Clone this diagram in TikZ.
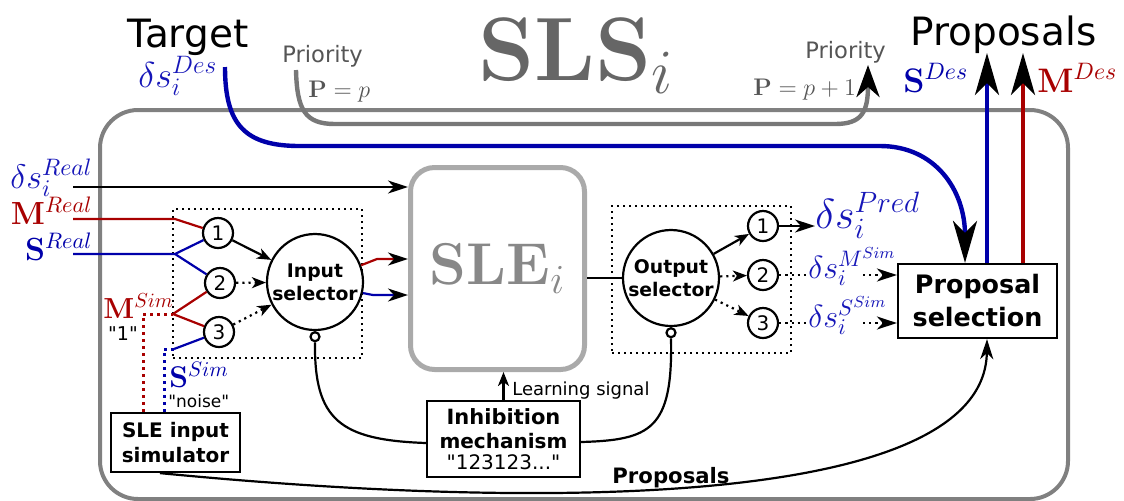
\RequirePackage{fix-cm}
\documentclass[tikz,border=0pt]{standalone}
\usepackage[no-math]{fontspec}
\setmainfont[Ligatures=TeXOff]{DejaVu Sans}
\usetikzlibrary{arrows.meta}
\definecolor{lblue}{HTML}{0000AA}
\definecolor{tblue}{HTML}{1616B8}
\definecolor{dred}{HTML}{A80000}
\definecolor{boxgray}{HTML}{808080}
\definecolor{prigray}{HTML}{787878}
\definecolor{pritext}{HTML}{555555}
\definecolor{titlegray}{HTML}{666666}
\definecolor{slegray}{HTML}{AAAAAA}
\definecolor{sletext}{HTML}{888888}
\newcommand{\myfs}[1]{\fontsize{#1}{#1}\selectfont}
\tikzset{
  thinarrow/.style={-{Stealth[black,length=10pt,width=6.5pt,inset=3pt]}},
  smallarrow/.style={-{Stealth[black,length=7pt,width=5.5pt,inset=2pt]}},
  bigarrow/.style={-{Stealth[black,length=21pt,width=12pt,inset=6pt]}},
  priarrow/.style={-{Stealth[black,length=16pt,width=11.5pt,inset=5pt]}},
  circ/.style={circle,draw,line width=1.1pt,fill=white,minimum size=15pt,inner sep=0pt,font=\myfs{10}},
  smallc/.style={circle,draw,line width=1.1pt,fill=white,minimum size=4.5pt,inner sep=0pt},
  sel/.style={circle,draw,line width=1.1pt,fill=white,minimum size=48pt,inner sep=0pt,align=center,font=\bfseries\fontsize{9.4}{11.5}\selectfont},
  dotbox/.style={draw,dotted,line width=1pt,inner sep=0pt},
  blk/.style={draw,line width=1.1pt,fill=white,align=center,inner sep=0pt},
  lbl/.style={inner sep=0pt},
  thin/.style={line width=1.1pt},
  thick/.style={line width=2.2pt}
}
\begin{document}
\begin{tikzpicture}[x=0.5pt,y=-0.5pt]
\useasboundingbox (0,0) rectangle (1124,500);
% outer SLS box
\draw[boxgray,line width=2pt,rounded corners=19pt] (100,110) rectangle (1068,499);
% title
\node[lbl,anchor=base west,text=titlegray,font=\myfs{45}] (title) at (478,80) {$\mathbf{SLS}_i$};
% dotted boxes
\node[dotbox,minimum width=94.5pt,minimum height=74.5pt] (inbox) at (267.5,283.5) {};
\node[dotbox,minimum width=89.5pt,minimum height=73.5pt] (outbox) at (701.5,279.5) {};
% SLE
\node[draw=slegray,line width=2.5pt,rounded corners=12pt,minimum width=87pt,minimum height=101pt,text=sletext,font=\myfs{29.5}] (sle) at (497.5,268.5) {$\mathbf{SLE}_i$};
% selectors
\node[sel] (insel) at (315,282) {Input\\selector};
\node[sel] (outsel) at (671,278) {Output\\selector};
\node[smallc,anchor=north] (inhin) at (insel.south) {};
\node[smallc,anchor=north] (inhout) at (outsel.south) {};
% small circles
\node[circ] (in1) at (218,233) {1};
\node[circ] (in2) at (220,283) {2};
\node[circ] (in3) at (219,332) {3};
\node[circ] (out1) at (763,226) {1};
\node[circ] (out2) at (763,275) {2};
\node[circ] (out3) at (763,323) {3};
% boxes
\node[blk,minimum width=76.5pt,minimum height=38pt] (inh) at (503.5,439)
  {\bfseries\fontsize{10.5}{13.5}\selectfont Inhibition\\ \bfseries mechanism\\[-1.5pt] \mdseries\myfs{10}"123123..."};
\node[blk,minimum width=64.5pt,minimum height=29.5pt,font=\bfseries\fontsize{10}{12.5}\selectfont] (sim) at (175.5,442.5) {SLE input\\simulator};
\node[blk,minimum width=79.5pt,minimum height=37pt,font=\bfseries\fontsize{12.7}{16.5}\selectfont] (prop) at (977.5,301) {Proposal\\selection};
% top labels
\node[lbl,anchor=base,font=\myfs{19.5}] (target) at (188,47) {Target};
\node[lbl,anchor=base west,text=tblue,font=\myfs{18}] (desl) at (138,87) {$\delta s_i^{Des}$};
\node[lbl,anchor=base west,text=pritext,font=\myfs{11.3}] (pril) at (282,62) {Priority};
\node[lbl,anchor=base west,text=pritext,font=\myfs{12}] (pl) at (308,97) {$\mathbf{P}=p$};
\node[lbl,anchor=base west,text=pritext,font=\myfs{11.3}] (prir) at (805,58) {Priority};
\node[lbl,anchor=base west,text=pritext,font=\myfs{12}] (pr) at (753,95) {$\mathbf{P}=p+1$};
\node[lbl,anchor=base west,font=\myfs{19.5}] (propt) at (910,45) {Proposals};
\node[lbl,anchor=base west,text=lblue,font=\myfs{17}] (sdes) at (903,92) {$\mathbf{S}^{Des}$};
\node[lbl,anchor=base west,text=dred,font=\myfs{17}] (mdes) at (1037,92) {$\mathbf{M}^{Des}$};
% left labels
\node[lbl,anchor=base west,text=tblue,font=\myfs{17}] (dreal) at (10,188) {$\delta s_i^{Real}$};
\node[lbl,anchor=base east,text=dred,font=\myfs{16}] (mreal) at (93,224) {$\mathbf{M}^{Real}$};
\node[lbl,anchor=base east,text=lblue,font=\myfs{16}] (sreal) at (93,260) {$\mathbf{S}^{Real}$};
\node[lbl,anchor=base west,text=dred,font=\myfs{14.5}] (msim) at (103,318) {$\mathbf{M}^{Sim}$};
\node[lbl,anchor=base,font=\myfs{9.5}] (one) at (123,340) {"1"};
\node[lbl,anchor=base west,text=lblue,font=\myfs{15}] (ssim) at (169,387) {$\mathbf{S}^{Sim}$};
\node[lbl,anchor=base west,font=\myfs{8.5}] (noise) at (168,407) {"noise"};
% right labels
\node[lbl,anchor=base west,text=tblue,font=\myfs{21}] (pred) at (815,228) {$\delta s_i^{Pred}$};
\node[lbl,anchor=base west,text=tblue,font=\myfs{16}] (dm) at (808,278) {$\delta s_i^{M^{Sim}}$};
\node[lbl,anchor=base west,text=tblue,font=\myfs{16}] (ds) at (808,327) {$\delta s_i^{S^{Sim}}$};
\node[lbl,anchor=base west,font=\myfs{9}] (learn) at (512,395) {Learning signal};
\node[lbl,anchor=base,font=\bfseries\myfs{10.6}] (propl) at (671,483) {Proposals};
% coordinates
\coordinate (realst) at (73,187);
\coordinate (mrealst) at (73,219);
\coordinate (mrealbr) at (175,219);
\coordinate (srealst) at (73,254);
\coordinate (srealbr) at (175,254);
\coordinate (msimbr) at (173,314);
\coordinate (msimcorner) at (143,314);
\coordinate (ssimbr) at (174,349);
\coordinate (ssimcorner) at (164,349);
\coordinate (redmid) at (377,259);
\coordinate (bluemid) at (373,295);
\coordinate (dmarr) at (863,275);
\coordinate (dsarr) at (863,323);
\coordinate (desst) at (225,67);
\coordinate (prist) at (296,70);
\coordinate (pritip) at (868,65);
\coordinate (sdestip) at (987,53);
\coordinate (mdestip) at (1023,53);
% inputs
\draw[thin,thinarrow] (realst) -- (realst -| sle.west);
\draw[thin,dred] (mrealst) -- (mrealbr) -- (in1);
\draw[thin,lblue] (srealst) -- (srealbr) -- (in1);
\draw[thin,lblue] (srealbr) -- (in2);
\draw[dred,dotted,line width=1.5pt] (msimcorner |- sim.north) -- (msimcorner) -- (msimbr);
\draw[thin,dred] (msimbr) -- (in2);
\draw[thin,dred] (msimbr) -- (in3);
\draw[lblue,dotted,line width=1.5pt] (ssimcorner |- sim.north) -- (ssimcorner) -- (ssimbr);
\draw[thin,lblue] (ssimbr) -- (in3);
\draw[thin,smallarrow] (in1) -- (insel);
\draw[thin,dotted,smallarrow] (in2) -- (insel);
\draw[thin,dotted,smallarrow] (in3) -- (insel);
\draw[thin,dred,thinarrow] (insel.20) -- (redmid) -- (redmid -| sle.west);
\draw[thin,lblue,thinarrow] (insel.-13) -- (bluemid) -- (bluemid -| sle.west);
% outputs
\draw[thin] (sle.east |- outsel) -- (outsel);
\draw[thin,smallarrow] (outsel) -- (out1);
\draw[thin,dotted,smallarrow] (outsel) -- (out2);
\draw[thin,dotted,smallarrow] (outsel) -- (out3);
\draw[thin,thinarrow] (out1) -- (out1 -| pred.west);
\draw[thin,dotted] (out2) -- (out2 -| dm.west);
\draw[thin,dotted,thinarrow] (dmarr) -- (dmarr -| prop.west);
\draw[thin,dotted] (out3) -- (out3 -| ds.west);
\draw[thin,dotted,thinarrow] (dsarr) -- (dsarr -| prop.west);
% inhibition
\draw[thin,smallarrow] (inh.north) -- (inh.north |- sle.south);
\draw[thin] (inhin.south) .. controls (314,420) and (340,440) .. ([yshift=-2pt]inh.west);
\draw[thin] (inhout.south) .. controls (673,430) and (650,440) .. ([yshift=-1.5pt]inh.east);
% proposals curve
\draw[thin,thinarrow] ([xshift=-7.75pt]sim.south) .. controls (560,512) and (985,505) .. ([xshift=4.75pt]prop.south);
% top thick lines
\draw[prigray,thick,priarrow] (prist) .. controls (297,110) and (305,124) .. (335,124) -- (835,124) .. controls (862,124) and (868,112) .. (pritip);
\draw[lblue,thick,bigarrow] (desst) .. controls (225,125) and (245,146) .. (300,146) -- (880,146) .. controls (935,146) and (965,190) .. ([xshift=-6.25pt]prop.north);
\draw[lblue,thick,bigarrow] (sdestip |- prop.north) -- (sdestip);
\draw[dred,thick,bigarrow] (mdestip |- prop.north) -- (mdestip);
\end{tikzpicture}
\end{document}
